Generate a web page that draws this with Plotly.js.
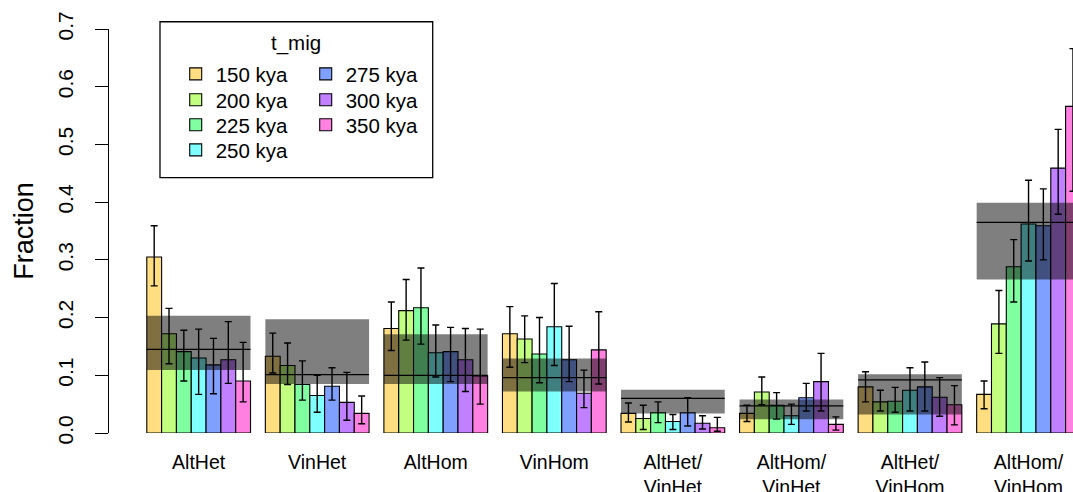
<!DOCTYPE html>
<html>
<head>
<meta charset="utf-8">
<script src="https://cdn.plot.ly/plotly-3.0.1.min.js"></script>
<style>html,body{margin:0;padding:0;background:#fff;}#chart{width:1073px;height:492px;}</style>
</head>
<body>
<div id="chart"></div>
<script>
// ---- data ----
const categories = ['AltHet', 'VinHet', 'AltHom', 'VinHom', 'AltHet/VinHet', 'AltHom/VinHet', 'AltHet/VinHom', 'AltHom/VinHom'];
const tickLabels = ['AltHet', 'VinHet', 'AltHom', 'VinHom', 'AltHet/<br>VinHet', 'AltHom/<br>VinHet', 'AltHet/<br>VinHom', 'AltHom/<br>VinHom'];
const tmig = ['150 kya', '200 kya', '225 kya', '250 kya', '275 kya', '300 kya', '350 kya'];
const colors = ['#FFDE82', '#C2FF80', '#80FFA0', '#80FFFF', '#80A0FF', '#C080FF', '#FF80E0'];
const legendTitle = 't_mig';

const val150 = [0.305, 0.133, 0.181, 0.172, 0.034, 0.034, 0.080, 0.067];
const lo150  = [0.255, 0.104, 0.143, 0.114, 0.019, 0.020, 0.054, 0.042];
const hi150  = [0.359, 0.173, 0.227, 0.219, 0.052, 0.048, 0.106, 0.090];

const val200 = [0.172, 0.117, 0.212, 0.163, 0.025, 0.071, 0.054, 0.189];
const lo200  = [0.120, 0.084, 0.161, 0.122, 0.006, 0.049, 0.038, 0.138];
const hi200  = [0.216, 0.156, 0.266, 0.203, 0.048, 0.097, 0.074, 0.247];

const val225 = [0.141, 0.084, 0.217, 0.137, 0.035, 0.048, 0.055, 0.288];
const lo225  = [0.090, 0.057, 0.154, 0.087, 0.018, 0.024, 0.036, 0.227];
const hi225  = [0.178, 0.125, 0.286, 0.200, 0.054, 0.070, 0.079, 0.335];

const val250 = [0.130, 0.065, 0.139, 0.184, 0.020, 0.030, 0.074, 0.362];
const lo250  = [0.067, 0.036, 0.097, 0.117, 0.006, 0.015, 0.038, 0.298];
const hi250  = [0.180, 0.100, 0.187, 0.259, 0.032, 0.050, 0.113, 0.438];

const val275 = [0.118, 0.081, 0.141, 0.127, 0.035, 0.061, 0.080, 0.359];
const lo275  = [0.068, 0.057, 0.089, 0.089, 0.012, 0.038, 0.038, 0.300];
const hi275  = [0.164, 0.113, 0.183, 0.185, 0.061, 0.086, 0.123, 0.423];

const val300 = [0.127, 0.053, 0.127, 0.069, 0.017, 0.089, 0.062, 0.459];
const lo300  = [0.086, 0.022, 0.072, 0.044, 0.007, 0.038, 0.029, 0.379];
const hi300  = [0.193, 0.105, 0.181, 0.109, 0.030, 0.138, 0.096, 0.526];

const val350 = [0.090, 0.034, 0.099, 0.144, 0.009, 0.015, 0.049, 0.566];
const lo350  = [0.054, 0.016, 0.050, 0.085, 0.003, 0.005, 0.014, 0.419];
const hi350  = [0.157, 0.064, 0.180, 0.210, 0.027, 0.028, 0.082, 0.666];

// observed fraction with its interval (grey band + black line)
const observed   = [0.145, 0.101, 0.100, 0.096, 0.060, 0.047, 0.092, 0.365];
const observedLo = [0.109, 0.085, 0.085, 0.072, 0.034, 0.024, 0.032, 0.266];
const observedHi = [0.203, 0.197, 0.171, 0.129, 0.075, 0.058, 0.102, 0.399];

const yTicks = [0, 0.1, 0.2, 0.3, 0.4, 0.5, 0.6, 0.7];

// ---- build ----
const vals = [val150, val200, val225, val250, val275, val300, val350];
const los = [lo150, lo200, lo225, lo250, lo275, lo300, lo350];
const his = [hi150, hi200, hi225, hi250, hi275, hi300, hi350];
const nS = tmig.length;           // bars per group
const groupStep = nS + 1;         // one empty slot between groups
const nRows = 4;                  // legend laid out column-wise in 2 columns
const legendId = j => { const r = j % nRows; return r === 0 ? 'legend' : 'legend' + (r + 1); };

const traces = tmig.map((name, j) => ({
  type: 'bar',
  name: name,
  legend: legendId(j),
  x: categories.map((_, k) => 1.5 + groupStep * k + j),
  y: vals[j],
  width: 1,
  marker: {color: colors[j], line: {color: '#000', width: 1.1}},
  error_y: {
    type: 'data', symmetric: false,
    array: vals[j].map((v, k) => his[j][k] - v),
    arrayminus: vals[j].map((v, k) => v - los[j][k]),
    color: '#000', thickness: 1.4, width: 3.5
  },
  hoverinfo: 'skip'
}));

const shapes = [];
categories.forEach((c, k) => {
  const x0 = 1 + groupStep * k, x1 = x0 + nS;
  shapes.push({type: 'rect', xref: 'x', yref: 'y', x0: x0, x1: x1, y0: observedLo[k], y1: observedHi[k],
    fillcolor: 'rgba(0,0,0,0.5)', line: {width: 0}, layer: 'above'});
  shapes.push({type: 'line', xref: 'x', yref: 'y', x0: x0, x1: x1, y0: observed[k], y1: observed[k],
    line: {color: '#000', width: 1.3}, layer: 'above'});
});
// legend frame
shapes.push({type: 'rect', xref: 'paper', yref: 'paper', x0: 0.0529, x1: 0.3358, y0: 0.632, y1: 1.018,
  fillcolor: 'rgba(0,0,0,0)', line: {color: '#000', width: 1.3}, layer: 'above'});

const font = 'Liberation Sans, Arial, Helvetica, sans-serif';
const legendFont = {size: 20.5, family: font, color: '#000'};
const legendRowY = [0.938, 0.874, 0.812, 0.750];

const layout = {
  width: 1073, height: 492,
  margin: {l: 109, r: 0, t: 29, b: 59, pad: 0},
  paper_bgcolor: '#fff', plot_bgcolor: '#fff',
  font: {family: font, color: '#000'},
  barmode: 'overlay',
  showlegend: true,
  xaxis: {
    range: [-1.55, 63.5],
    tickmode: 'array',
    tickvals: categories.map((_, k) => 1 + groupStep * k + nS / 2),
    ticktext: tickLabels,
    ticks: '', showline: false, showgrid: false, zeroline: false,
    tickfont: {size: 19.5, family: font},
    ticklabelstandoff: 15,
    automargin: false, fixedrange: true
  },
  yaxis: {
    range: [0, 0.7],
    tickmode: 'array', tickvals: yTicks,
    ticktext: yTicks.map(v => v.toFixed(1)),
    tickangle: -90,
    ticks: 'outside', ticklen: 13, tickwidth: 1, tickcolor: '#000',
    showline: true, linecolor: '#000', linewidth: 1,
    showgrid: false, zeroline: false,
    tickfont: {size: 21, family: font},
    ticklabelstandoff: 14,
    title: {text: 'Fraction', font: {size: 27, family: font}, standoff: 12},
    automargin: false, fixedrange: true
  },
  annotations: [{
    text: legendTitle, xref: 'paper', yref: 'paper', x: 0.1942, y: 0.966,
    xanchor: 'center', yanchor: 'middle', showarrow: false,
    font: legendFont
  }],
  shapes: shapes
};
legendRowY.forEach((yy, r) => {
  layout[r === 0 ? 'legend' : 'legend' + (r + 1)] = {
    x: 0.0692, y: yy, xanchor: 'left', yanchor: 'top',
    orientation: 'h',
    entrywidth: 85, entrywidthmode: 'pixels',
    bgcolor: 'rgba(0,0,0,0)', borderwidth: 0,
    font: legendFont,
    itemclick: false, itemdoubleclick: false
  };
});

Plotly.newPlot('chart', traces, layout, {displayModeBar: false, staticPlot: true});
</script>
</body>
</html>
